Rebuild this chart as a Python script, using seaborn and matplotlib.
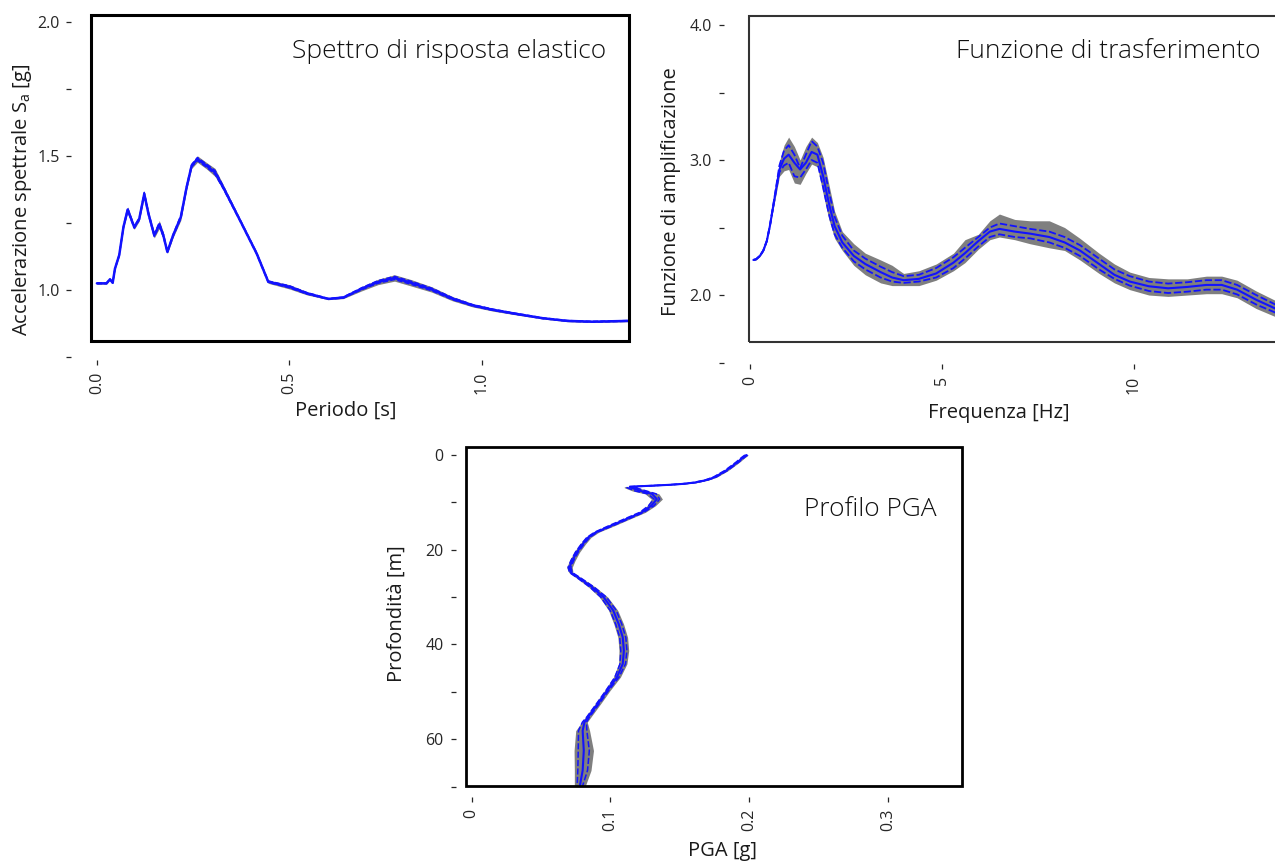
import numpy as np
import pandas as pd
import matplotlib
matplotlib.use("Agg")
import matplotlib.pyplot as plt
import seaborn as sns
from matplotlib.patches import Rectangle

# ---------------- data: elastic response spectrum ----------------
period_s = [0.0, 0.025, 0.034, 0.041, 0.047, 0.058, 0.069, 0.080, 0.097, 0.110,
            0.123, 0.134, 0.149, 0.162, 0.1725, 0.183, 0.198, 0.218, 0.233, 0.246,
            0.261, 0.285, 0.307, 0.328, 0.372, 0.415, 0.445, 0.500, 0.545, 0.601,
            0.640, 0.688, 0.730, 0.773, 0.816, 0.870, 0.923, 0.976, 1.030, 1.094,
            1.158, 1.222, 1.287, 1.381]
sa_mean = [1.025, 1.025, 1.040, 1.027, 1.080, 1.130, 1.235, 1.300, 1.234, 1.265,
           1.358, 1.284, 1.204, 1.244, 1.204, 1.142, 1.204, 1.272, 1.383, 1.463,
           1.488, 1.463, 1.438, 1.383, 1.259, 1.136, 1.031, 1.012, 0.988, 0.967,
           0.972, 1.005, 1.030, 1.045, 1.027, 1.002, 0.968, 0.943, 0.926, 0.910,
           0.895, 0.885, 0.882, 0.885]
sa_band = [0.003, 0.003, 0.003, 0.003, 0.004, 0.005, 0.006, 0.010, 0.008, 0.008,
           0.012, 0.010, 0.010, 0.015, 0.012, 0.006, 0.008, 0.012, 0.010, 0.010,
           0.012, 0.012, 0.015, 0.010, 0.006, 0.006, 0.006, 0.008, 0.006, 0.003,
           0.004, 0.008, 0.010, 0.012, 0.012, 0.010, 0.008, 0.006, 0.005, 0.004,
           0.003, 0.003, 0.003, 0.003]

# ---------------- data: transfer function ----------------
freq_hz = [0.08, 0.15, 0.25, 0.34, 0.43, 0.51, 0.64, 0.76, 0.88, 1.0,
           1.15, 1.3, 1.45, 1.6, 1.75, 1.9, 2.05, 2.2, 2.4, 2.7,
           3.0, 3.4, 3.7, 4.0, 4.4, 4.85, 5.3, 5.6, 5.95, 6.25,
           6.5, 6.9, 7.3, 7.8, 8.2, 8.6, 9.1, 9.5, 9.9, 10.4,
           10.9, 11.4, 11.9, 12.3, 12.7, 13.2, 13.7, 14.0]
tf_mean = [2.26, 2.265, 2.29, 2.33, 2.40, 2.51, 2.73, 2.93, 3.01, 3.04,
           2.98, 2.93, 2.98, 3.06, 3.04, 2.88, 2.68, 2.51, 2.39, 2.29,
           2.23, 2.17, 2.13, 2.11, 2.12, 2.16, 2.24, 2.31, 2.40, 2.47,
           2.49, 2.47, 2.455, 2.43, 2.39, 2.33, 2.23, 2.15, 2.10, 2.065,
           2.05, 2.06, 2.075, 2.075, 2.04, 1.965, 1.90, 1.86]
tf_upper = [2.26, 2.265, 2.29, 2.33, 2.40, 2.51, 2.74, 2.96, 3.07, 3.11,
            3.04, 2.94, 3.04, 3.14, 3.10, 2.98, 2.77, 2.58, 2.44, 2.33,
            2.27, 2.21, 2.17, 2.14, 2.15, 2.20, 2.28, 2.35, 2.43, 2.50,
            2.53, 2.51, 2.49, 2.47, 2.43, 2.37, 2.27, 2.19, 2.14, 2.10,
            2.085, 2.095, 2.11, 2.11, 2.075, 2.00, 1.93, 1.89]
tf_lower = [2.26, 2.265, 2.29, 2.33, 2.40, 2.51, 2.72, 2.91, 2.96, 2.98,
            2.88, 2.87, 2.93, 3.00, 2.98, 2.80, 2.60, 2.45, 2.35, 2.25,
            2.19, 2.13, 2.10, 2.09, 2.10, 2.13, 2.20, 2.27, 2.36, 2.43,
            2.45, 2.43, 2.42, 2.39, 2.35, 2.29, 2.19, 2.12, 2.07, 2.03,
            2.015, 2.025, 2.04, 2.04, 2.005, 1.93, 1.87, 1.83]
tf_band_hi = [2.265, 2.27, 2.295, 2.335, 2.405, 2.515, 2.76, 2.99, 3.11, 3.17,
              3.10, 3.00, 3.10, 3.17, 3.13, 3.02, 2.82, 2.62, 2.47, 2.38,
              2.31, 2.26, 2.22, 2.16, 2.18, 2.23, 2.31, 2.41, 2.45, 2.55,
              2.60, 2.56, 2.55, 2.55, 2.50, 2.42, 2.31, 2.23, 2.17, 2.13,
              2.12, 2.12, 2.14, 2.14, 2.11, 2.03, 1.96, 1.92]
tf_band_lo = [2.255, 2.26, 2.285, 2.325, 2.395, 2.505, 2.70, 2.88, 2.92, 2.93,
              2.83, 2.82, 2.90, 2.97, 2.95, 2.75, 2.56, 2.42, 2.33, 2.22,
              2.15, 2.09, 2.07, 2.07, 2.07, 2.11, 2.18, 2.24, 2.34, 2.41,
              2.43, 2.41, 2.38, 2.35, 2.33, 2.26, 2.16, 2.09, 2.04, 2.00,
              1.99, 2.00, 2.01, 2.01, 1.98, 1.90, 1.84, 1.80]

# ---------------- data: PGA profile ----------------
depth_m = [0.0, 0.5, 1.5, 2.4, 3.3, 4.7, 5.3, 5.8, 6.1, 6.3, 6.5, 6.7, 6.9, 7.6, 8.2,
           9.3, 10.7, 12.1, 13.5, 14.9, 16.3, 17.4, 18.8, 20.5, 22.3,
           23.7, 24.8, 26.2, 27.9, 30.0, 32.8, 35.7, 38.5, 41.3, 44.1,
           46.9, 49.7, 52.5, 55.3, 56.4, 58.2, 62.4, 66.6, 69.8]
pga_mean = [0.198, 0.1957, 0.1916, 0.1875, 0.1833, 0.175, 0.169, 0.161, 0.152, 0.142, 0.128, 0.114, 0.115, 0.122, 0.130,
            0.1335, 0.1295, 0.1227, 0.1116, 0.1006, 0.0896, 0.084, 0.080, 0.0758, 0.0725,
            0.0705, 0.0715, 0.0786, 0.0868, 0.0951, 0.102, 0.106, 0.1089, 0.1097, 0.1089,
            0.1047, 0.0978, 0.091, 0.084, 0.0813, 0.080, 0.0808, 0.080, 0.078]
pga_line = [0.001, 0.001, 0.001, 0.001, 0.001, 0.001, 0.001, 0.001, 0.001, 0.001, 0.0015, 0.002, 0.003, 0.004, 0.003,
            0.002, 0.002, 0.0015, 0.0015, 0.0015, 0.001, 0.001, 0.001, 0.001, 0.001,
            0.001, 0.001, 0.0012, 0.0015, 0.002, 0.0022, 0.0022, 0.0022, 0.0022, 0.002,
            0.0015, 0.001, 0.001, 0.001, 0.0015, 0.003, 0.004, 0.0035, 0.002]
pga_band = [0.0015, 0.0015, 0.0015, 0.0015, 0.0015, 0.0015, 0.0015, 0.002, 0.002, 0.002, 0.003, 0.004, 0.005, 0.006, 0.005,
            0.004, 0.003, 0.0025, 0.0025, 0.0025, 0.002, 0.002, 0.002, 0.002, 0.002,
            0.002, 0.0015, 0.002, 0.0025, 0.003, 0.0033, 0.0035, 0.0035, 0.0035, 0.003,
            0.0025, 0.002, 0.002, 0.002, 0.002, 0.005, 0.007, 0.006, 0.004]

# ---------------- style ----------------
sns.set_theme(style="white")
plt.rcParams["font.family"] = ["Open Sans", "DejaVu Sans"]
BLUE = "#1212ff"
GREY = "#7f7f7f"
TICKC = "#262626"

W, H = 1275, 864
fig = plt.figure(figsize=(W / 100, H / 100), dpi=100)


def add_ax(left, top, right, bottom):
    return fig.add_axes([left / W, 1 - bottom / H, (right - left) / W, (bottom - top) / H])


def style_axis(ax, y_off_px, box_bottom_frac, box_lw, box_color, box_width=1.0):
    for s in ax.spines.values():
        s.set_visible(False)
    ax.spines["left"].set_position(("outward", y_off_px * 72 / 100))
    ax.tick_params(axis="both", which="both", direction="out", length=3.6, width=0.9,
                   color=TICKC, labelcolor=TICKC, labelsize=11.5, pad=5.0,
                   left=True, bottom=True)
    ax.tick_params(axis="x", labelrotation=90)
    ax.grid(False)
    ax.add_patch(Rectangle((0, box_bottom_frac), box_width, 1 - box_bottom_frac,
                           transform=ax.transAxes, fill=False, ec=box_color,
                           lw=box_lw, clip_on=False, zorder=10))


def fig_label(ax, text, xpx, ypx, axis, size=14.5):
    if axis == "x":
        ax.set_xlabel(text, fontsize=size, color="#1a1a1a", va="center", ha="center")
        ax.xaxis.set_label_coords(xpx / W, 1 - ypx / H, transform=fig.transFigure)
    else:
        ax.set_ylabel(text, fontsize=size, color="#1a1a1a", va="center", ha="center")
        ax.yaxis.set_label_coords(xpx / W, 1 - ypx / H, transform=fig.transFigure)


# ================= Panel 1: spectrum =================
ax1 = add_ax(91, 14.7, 629, 359.8)
T = np.array(period_s); m = np.array(sa_mean); b = np.array(sa_band)
ax1.fill_between(T, m - b, m + b, color=GREY, lw=0, zorder=1)
df1 = pd.DataFrame({"T": T, "mean": m, "hi": m + 0.5 * b, "lo": m - 0.5 * b})
sns.lineplot(data=df1, x="T", y="hi", ax=ax1, color=BLUE, lw=1.0, ls="--", estimator=None, sort=False, zorder=2)
sns.lineplot(data=df1, x="T", y="lo", ax=ax1, color=BLUE, lw=1.0, ls="--", estimator=None, sort=False, zorder=2)
sns.lineplot(data=df1, x="T", y="mean", ax=ax1, color=BLUE, lw=1.8, estimator=None, sort=False, zorder=3)
ax1.set_xlim(-0.0153, 1.382)
ax1.set_ylim(0.74, 2.026)
ax1.set_xticks([0.0, 0.5, 1.0], ["0.0", "0.5", "1.0"])
ax1.set_yticks([0.75, 1.0, 1.25, 1.5, 1.75, 2.0], ["", "1.0", "", "1.5", "", "2.0"])
style_axis(ax1, 19.5, (359.8 - 341) / (359.8 - 14.7), 2.2, "black")
fig_label(ax1, "Periodo [s]", 346, 411, "x")
fig_label(ax1, "Accelerazione spettrale S$_\\mathregular{a}$ [g]", 22, 200, "y")
fig.text(606 / W, 1 - 58 / H, "Spettro di risposta elastico", ha="right", va="baseline",
         fontsize=19, fontweight="light", color="#111111")

# ================= Panel 2: transfer function =================
ax2 = add_ax(749, 16, 1275, 363.9)
f = np.array(freq_hz)
ax2.fill_between(f, tf_band_lo, tf_band_hi, color=GREY, lw=0, zorder=1)
df2 = pd.DataFrame({"f": f, "mean": tf_mean, "hi": tf_upper, "lo": tf_lower})
sns.lineplot(data=df2, x="f", y="hi", ax=ax2, color=BLUE, lw=1.3, ls=(0, (4, 1.5)), estimator=None, sort=False, zorder=2)
sns.lineplot(data=df2, x="f", y="lo", ax=ax2, color=BLUE, lw=1.3, ls=(0, (4, 1.5)), estimator=None, sort=False, zorder=2)
sns.lineplot(data=df2, x="f", y="mean", ax=ax2, color=BLUE, lw=1.5, estimator=None, sort=False, zorder=3)
ax2.set_xlim(-0.034, 13.69)
ax2.set_ylim(1.49, 4.067)
ax2.set_xticks([0, 5, 10], ["0", "5", "10"])
ax2.set_yticks([1.5, 2.0, 2.5, 3.0, 3.5, 4.0], ["", "2.0", "", "3.0", "", "4.0"])
style_axis(ax2, 25.5, (363.9 - 342.3) / (363.9 - 16), 1.5, "#333333", box_width=1.1)
fig_label(ax2, "Frequenza [Hz]", 999, 413, "x")
fig_label(ax2, "Funzione di amplificazione", 671, 192, "y")
fig.text(1260 / W, 1 - 58 / H, "Funzione di trasferimento", ha="right", va="baseline",
         fontsize=19, fontweight="light", color="#111111")

# ================= Panel 3: PGA profile =================
ax3 = add_ax(465.7, 447.3, 961.7, 797)
d = np.array(depth_m); pm = np.array(pga_mean)
pl = np.array(pga_line); pb = np.array(pga_band)
ax3.fill_betweenx(d, pm - pb, pm + pb, color=GREY, lw=0, zorder=1)
df3 = pd.DataFrame({"d": d, "mean": pm, "hi": pm + pl, "lo": pm - pl})
sns.lineplot(data=df3, x="hi", y="d", ax=ax3, color=BLUE, lw=1.1, ls=(0, (4, 1.5)), estimator=None, sort=False, orient="y", zorder=2)
sns.lineplot(data=df3, x="lo", y="d", ax=ax3, color=BLUE, lw=1.1, ls=(0, (4, 1.5)), estimator=None, sort=False, orient="y", zorder=2)
sns.lineplot(data=df3, x="mean", y="d", ax=ax3, color=BLUE, lw=1.5, estimator=None, sort=False, orient="y", zorder=3)
ax3.set_xlim(-0.00433, 0.35328)
ax3.set_ylim(72.2, -1.63)
ax3.set_xticks([0, 0.1, 0.2, 0.3], ["0", "0.1", "0.2", "0.3"])
ax3.set_yticks([0, 10, 20, 30, 40, 50, 60, 70], ["0", "", "20", "", "40", "", "60", ""])
style_axis(ax3, 10, (797 - 785.7) / (797 - 447.3), 2.0, "black")
fig_label(ax3, "PGA [g]", 722, 851, "x")
fig_label(ax3, "Profondità [m]", 397, 614, "y")
fig.text(937 / W, 1 - 516 / H, "Profilo PGA", ha="right", va="baseline",
         fontsize=19, fontweight="light", color="#111111")

fig.savefig("out.png", dpi=100)
